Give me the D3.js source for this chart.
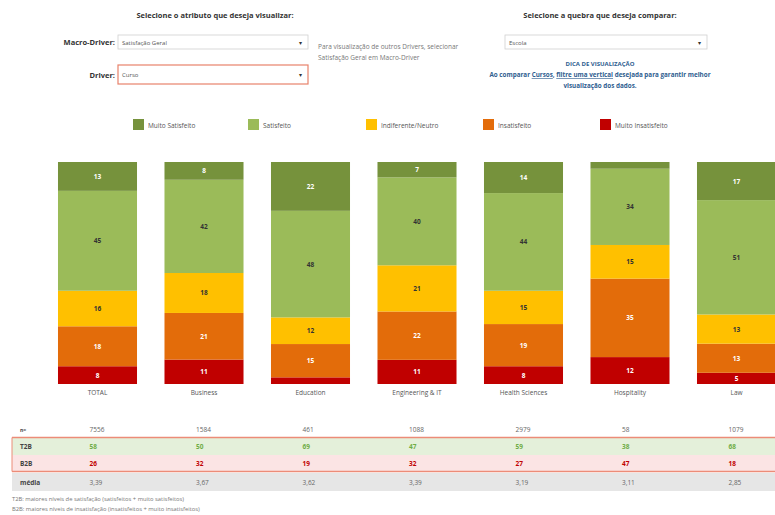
<!DOCTYPE html>
<html>
<head>
<meta charset="utf-8">
<script src="https://d3js.org/d3.v7.min.js"></script>
<style>
  body { margin: 0; background: #fff; }
  svg { font-family: "Open Sans", "DejaVu Sans", sans-serif; }
</style>
</head>
<body>
<svg width="775" height="515"></svg>
<script>
var categories = ["TOTAL", "Business", "Education", "Engineering & IT", "Health Sciences", "Hospitality", "Law"];
var levels = ["Muito insatisfeito", "Insatisfeito", "Indiferente/Neutro", "Satisfeito", "Muito Satisfeito"];
var muitoSatisfeito = [13, 8, 22, 7, 14, 3, 17];
var satisfeito = [45, 42, 48, 40, 44, 34, 51];
var indiferente = [16, 18, 12, 21, 15, 15, 13];
var insatisfeito = [18, 21, 15, 22, 19, 35, 13];
var muitoInsatisfeito = [8, 11, 3, 11, 8, 12, 5];
var nValues = ["7556", "1584", "461", "1088", "2979", "58", "1079"];
var t2b = [58, 50, 69, 47, 59, 38, 68];
var b2b = [26, 32, 19, 32, 27, 47, 18];
var media = ["3,39", "3,67", "3,62", "3,39", "3,19", "3,11", "2,85"];

var svg = d3.select("svg");

var color = d3.scaleOrdinal()
    .domain(levels)
    .range(["#c00000", "#e36c0a", "#ffc000", "#9bbb59", "#76923c"]);
var labelColor = {"Muito insatisfeito": "#fff", "Insatisfeito": "#fff", "Indiferente/Neutro": "#333",
                  "Satisfeito": "#333", "Muito Satisfeito": "#fff"};

var data = categories.map(function(c, i) {
  return {cat: c,
    "Muito insatisfeito": muitoInsatisfeito[i], "Insatisfeito": insatisfeito[i],
    "Indiferente/Neutro": indiferente[i], "Satisfeito": satisfeito[i], "Muito Satisfeito": muitoSatisfeito[i]};
});

var x = d3.scaleBand().domain(categories).range([44.25, 789.75]).paddingInner(0.258).paddingOuter(0.129);
var y = d3.scaleLinear().domain([0, 1]).range([384, 162]);

var series = d3.stack().keys(levels).offset(d3.stackOffsetExpand)(data);

// ---- top controls
var txt = "#333";
svg.append("text").attr("x", 215).attr("y", 18).attr("text-anchor", "middle")
  .attr("font-size", 7.5).attr("font-weight", "bold").attr("fill", txt)
  .text("Selecione o atributo que deseja visualizar:");
svg.append("text").attr("x", 600).attr("y", 18).attr("text-anchor", "middle")
  .attr("font-size", 7.5).attr("font-weight", "bold").attr("fill", txt)
  .text("Selecione a quebra que deseja comparar:");

function dropdown(x0, y0, w, h, label, value, border) {
  if (label) {
    svg.append("text").attr("x", x0 - 3).attr("y", y0 + h / 2 + 3).attr("text-anchor", "end")
      .attr("font-size", 7.5).attr("font-weight", "bold").attr("fill", txt).text(label);
  }
  svg.append("rect").attr("x", x0).attr("y", y0).attr("width", w).attr("height", h)
    .attr("fill", "#fff").attr("stroke", border || "#d0d0d0").attr("stroke-width", border ? 1.2 : 0.8);
  svg.append("text").attr("x", x0 + 4).attr("y", y0 + h / 2 + 2.5)
    .attr("font-size", 6).attr("fill", "#555").text(value);
  svg.append("text").attr("x", x0 + w - 9).attr("y", y0 + h / 2 + 2.5)
    .attr("font-size", 6).attr("fill", "#333").text("▾");
}
dropdown(118, 35, 190, 14, "Macro-Driver:", "Satisfação Geral");
dropdown(118, 65, 190, 19, "Driver:", "Curso", "#e8826b");
dropdown(505, 35, 202, 14, null, "Escola");

svg.append("text").attr("x", 318).attr("y", 49).attr("font-size", 6.5).attr("fill", "#777")
  .text("Para visualização de outros Drivers, selecionar");
svg.append("text").attr("x", 318).attr("y", 60).attr("font-size", 6.5).attr("fill", "#777")
  .text("Satisfação Geral em Macro-Driver");

var blue = "#2e5d8f";
svg.append("text").attr("x", 600).attr("y", 66).attr("text-anchor", "middle")
  .attr("font-size", 6).attr("fill", blue).attr("font-weight", "bold").text("DICA DE VISUALIZAÇÃO");
var tip = svg.append("text").attr("x", 600).attr("y", 77).attr("text-anchor", "middle")
  .attr("font-size", 6.3).attr("fill", blue).attr("font-weight", "bold");
tip.append("tspan").text("Ao comparar ");
tip.append("tspan").attr("text-decoration", "underline").text("Cursos");
tip.append("tspan").text(", ");
tip.append("tspan").attr("text-decoration", "underline").text("filtre uma vertical");
tip.append("tspan").text(" desejada para garantir melhor");
svg.append("text").attr("x", 600).attr("y", 88).attr("text-anchor", "middle")
  .attr("font-size", 6.3).attr("fill", blue).attr("font-weight", "bold").text("visualização dos dados.");

// ---- legend
var legendX = {"Muito Satisfeito": 133, "Satisfeito": 248, "Indiferente/Neutro": 366, "Insatisfeito": 483, "Muito insatisfeito": 600};
var legendText = {"Muito Satisfeito": "Muito Satisfeito", "Satisfeito": "Satisfeito", "Indiferente/Neutro": "Indiferente/Neutro",
                  "Insatisfeito": "Insatisfeito", "Muito insatisfeito": "Muito Insatisfeito"};
var lg = svg.append("g").selectAll("g").data(levels.slice().reverse()).enter().append("g")
  .attr("transform", function(d) { return "translate(" + legendX[d] + ",119)"; });
lg.append("rect").attr("width", 11).attr("height", 11).attr("fill", function(d) { return color(d); });
lg.append("text").attr("x", 15).attr("y", 8.5).attr("font-size", 6.5).attr("fill", "#555")
  .text(function(d) { return legendText[d]; });

// ---- bars
var g = svg.append("g");
var layer = g.selectAll("g.layer").data(series).enter().append("g")
  .attr("class", "layer").attr("fill", function(d) { return color(d.key); });
layer.selectAll("rect").data(function(d) { return d; }).enter().append("rect")
  .attr("x", function(d) { return x(d.data.cat); })
  .attr("y", function(d) { return y(d[1]); })
  .attr("width", x.bandwidth())
  .attr("height", function(d) { return y(d[0]) - y(d[1]); });

layer.selectAll("text").data(function(d) { return d.map(function(p) { p.key = d.key; return p; }); })
  .enter().append("text")
  .filter(function(d) { return d.data[d.key] > 4; })
  .attr("x", function(d) { return x(d.data.cat) + x.bandwidth() / 2; })
  .attr("y", function(d) { return (y(d[0]) + y(d[1])) / 2 + 2.5; })
  .attr("text-anchor", "middle").attr("font-size", 6.5).attr("font-weight", "bold")
  .attr("fill", function(d) { return labelColor[d.key]; })
  .text(function(d) { return d.data[d.key]; });

var xAxis = g.append("g").attr("transform", "translate(0,384)")
  .call(d3.axisBottom(x).tickSize(0).tickPadding(6));
xAxis.select(".domain").remove();
xAxis.selectAll("text").attr("font-size", 6.5).attr("fill", "#555").attr("font-family", "Open Sans, sans-serif");

// ---- table
var tx = function(i) { return x(categories[i]) + x.bandwidth() / 2 - 8; };
var tbl = svg.append("g");
tbl.append("rect").attr("x", 12).attr("y", 438).attr("width", 763).attr("height", 17).attr("fill", "#e4f0da");
tbl.append("rect").attr("x", 12).attr("y", 455).attr("width", 763).attr("height", 16).attr("fill", "#fbe4e4");
tbl.append("rect").attr("x", 12).attr("y", 473).attr("width", 763).attr("height", 18).attr("fill", "#e6e6e6");
tbl.append("line").attr("x1", 12).attr("x2", 775).attr("y1", 437.5).attr("y2", 437.5).attr("stroke", "#ec8c78").attr("stroke-width", 1.5);
tbl.append("line").attr("x1", 12).attr("x2", 775).attr("y1", 471.5).attr("y2", 471.5).attr("stroke", "#ec8c78").attr("stroke-width", 1.5);
tbl.append("line").attr("x1", 12).attr("x2", 12).attr("y1", 437.5).attr("y2", 471.5).attr("stroke", "#ec8c78").attr("stroke-width", 1);

var rows = [
  {label: "n=", vals: nValues, color: "#666", y: 432, bold: false},
  {label: "T2B", vals: t2b, color: "#70ad47", y: 449, bold: true},
  {label: "B2B", vals: b2b, color: "#c00000", y: 466, bold: true},
  {label: "média", vals: media, color: "#666", y: 485, bold: false}
];
rows.forEach(function(r) {
  tbl.append("text").attr("x", 20).attr("y", r.y).attr("font-size", r.label === "n=" ? 5 : 6.5)
    .attr("font-weight", "bold").attr("fill", "#444").text(r.label);
  tbl.selectAll(null).data(r.vals).enter().append("text")
    .attr("x", function(d, i) { return tx(i); }).attr("y", r.y)
    .attr("font-size", 6.5).attr("font-weight", r.bold ? "bold" : "normal").attr("fill", r.color)
    .text(function(d) { return d; });
});

svg.append("text").attr("x", 12).attr("y", 501).attr("font-size", 5.8).attr("fill", "#777")
  .text("T2B: maiores níveis de satisfação (satisfeitos + muito satisfeitos)");
svg.append("text").attr("x", 12).attr("y", 511).attr("font-size", 5.8).attr("fill", "#777")
  .text("B2B: maiores níveis de insatisfação (insatisfeitos + muito insatisfeitos)");
</script>
</body>
</html>
